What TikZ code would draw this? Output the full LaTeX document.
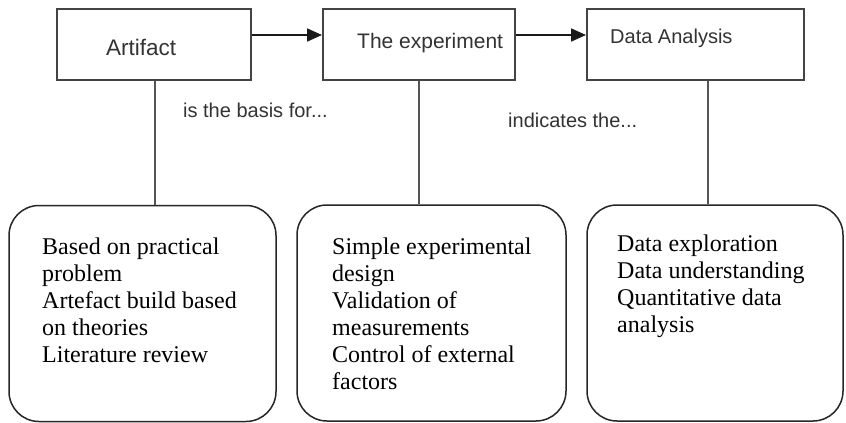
\documentclass[tikz,border=0pt]{standalone}
\usepackage{fontspec}
\setmainfont{Liberation Serif}
\newfontfamily\labelfont{Liberation Sans}
\usetikzlibrary{arrows.meta}
\definecolor{boxline}{HTML}{444444}
\definecolor{linkline}{HTML}{555555}
\definecolor{labeltext}{HTML}{333333}
\tikzset{
  stagebox/.style={draw=boxline, line width=2pt, minimum width=#1, minimum height=71pt, inner sep=0pt},
  stagetext/.style={anchor=west, inner sep=0pt, text=labeltext, font=\labelfont\fontsize{20}{24}\selectfont},
  detailbox/.style={draw=black!85, line width=1.5pt, rounded corners=30pt, minimum width=#1, minimum height=216pt, inner sep=0pt},
  detailtext/.style={anchor=north west, inner sep=0pt, align=left, text=black, font=\fontsize{24}{27}\selectfont},
  flow/.style={draw=black!90, line width=1.8pt, -{Triangle[length=15pt,width=13pt]}},
  link/.style={draw=linkline, line width=1.4pt},
}
\begin{document}
\begin{tikzpicture}[x=1pt, y=-1pt]
  \fill[white] (0,0) rectangle (846,423);
  \useasboundingbox (0,0) rectangle (846,423);

  % stages
  \node[stagebox=194pt] (art) at (154,44.5) {};
  \node[stagebox=192pt] (exp) at (419,44.5) {};
  \node[stagebox=217pt] (ana) at (695.5,44.5) {};
  \node[stagetext, font=\labelfont\fontsize{22.5}{26}\selectfont] (artlbl) at (106,47) {Artifact};
  \node[stagetext, font=\labelfont\fontsize{21}{25}\selectfont] (explbl) at (357,43) {The experiment};
  \node[stagetext] (analbl) at (610,38) {Data Analysis};

  % flow between stages
  \draw[flow] ([yshift=9.5pt]art.east) -- ([yshift=9.5pt]exp.west);
  \draw[flow] ([yshift=9.5pt]exp.east) -- ([yshift=9.5pt]ana.west);

  \node[stagetext] (basis) at (183,110) {is the basis for...};
  \node[stagetext] (indic) at (508,120) {indicates the...};

  % details of each stage
  \node[detailbox=267pt] (detA) at (142.5,313.5) {};
  \node[detailbox=269pt] (detB) at (431.5,313) {};
  \node[detailbox=256pt] (detC) at (715,313) {};

  \node[detailtext] (txtA) at (42,238) {Based on practical\\problem\\Artefact build based\\on theories\\Literature review};
  \node[detailtext] (txtB) at (332,238) {Simple experimental\\design\\Validation of\\measurements\\Control of external\\factors};
  \node[detailtext] (txtC) at (617,234.5) {Data exploration\\Data understanding\\Quantitative data\\analysis};

  % connections from stages to details
  \coordinate (ka) at (155,0);
  \coordinate (kb) at (419,0);
  \coordinate (kc) at (708,0);
  \draw[link] (ka |- art.south) -- (ka |- detA.north);
  \draw[link] (kb |- exp.south) -- (kb |- detB.north);
  \draw[link] (kc |- ana.south) -- (kc |- detC.north);
\end{tikzpicture}
\end{document}
